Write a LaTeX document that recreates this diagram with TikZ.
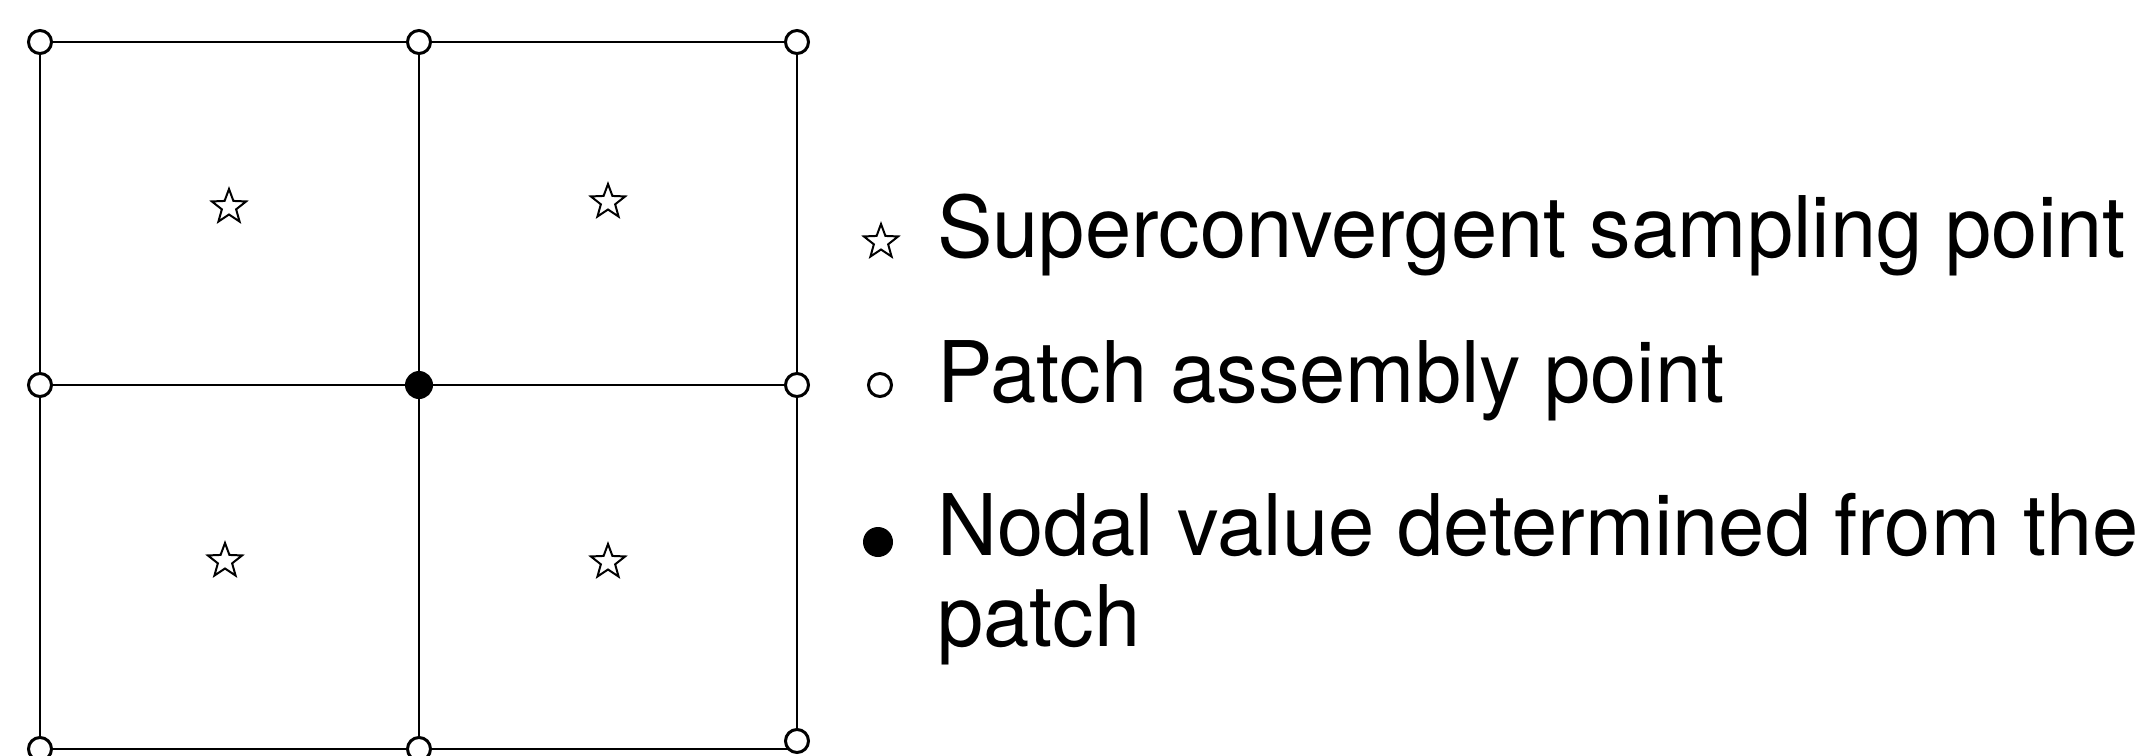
\documentclass[tikz,border=0pt]{standalone}
\usepackage{fontspec}
\setmainfont{TeX Gyre Heros}
\usetikzlibrary{shapes.geometric}
\pgfdeclarelayer{background}
\pgfsetlayers{background,main}
\tikzset{
  gridline/.style={line width=2.6pt},
  apt/.style={circle, draw, fill=white, line width=3pt, minimum size=23pt, inner sep=0pt},
  npt/.style={circle, fill=black, minimum size=28pt, inner sep=0pt},
  spt/.style={star, star points=5, star point ratio=2.4, draw, line width=2pt, fill=white, minimum size=36pt, inner sep=0pt},
  lbl/.style={anchor=base west, inner sep=0pt, font=\fontsize{85}{91}\selectfont},
}
\newcommand{\lbltext}[1]{\scalebox{0.978}[1]{#1}}
\begin{document}
\begin{tikzpicture}[x=1pt,y=-1pt]
\useasboundingbox (0,0) rectangle (2154,755);
% grid nodes
\node[apt] (tl) at (40,42) {};
\node[apt] (tm) at (419,42) {};
\node[apt] (tr) at (797,42) {};
\node[apt] (ml) at (40,385) {};
\node[npt] (c) at (419,385) {};
\node[apt] (mr) at (797,385) {};
\node[apt] (bl) at (40,749) {};
\node[apt] (bm) at (419,749) {};
\node[apt] (br) at (797,741) {};
% grid lines
\begin{pgfonlayer}{background}
\draw[gridline] (tl.center) -- (tm.center) -- (tr.center);
\draw[gridline] (tr.center) -- (mr.center) -- (br.center);
\draw[gridline] (bl.center) -- (bm.center) -- (bm.center -| br.center);
\draw[gridline] (tl.center) -- (ml.center) -- (bl.center);
\draw[gridline] (tm.center) -- (c.center) -- (bm.center);
\draw[gridline] (ml.center) -- (c.center) -- (mr.center);
\end{pgfonlayer}
% sampling points
\node[spt] (s1) at (229,207) {};
\node[spt] (s2) at (608,202) {};
\node[spt] (s3) at (225,561) {};
\node[spt] (s4) at (608,562) {};
% legend
\node[spt] (ls) at (881,242) {};
\node[apt] (la) at (880,385) {};
\node[npt, minimum size=30pt] (ln) at (878,542) {};
\node[lbl] (t1) at (937,257) {\lbltext{Superconvergent sampling point}};
\node[lbl] (t2) at (937,402) {\lbltext{Patch assembly point}};
\node[lbl] (t3) at (937,555) {\lbltext{Nodal value determined from the}};
\node[lbl] (t4) at (937,646) {\lbltext{patch}};
\end{tikzpicture}
\end{document}
